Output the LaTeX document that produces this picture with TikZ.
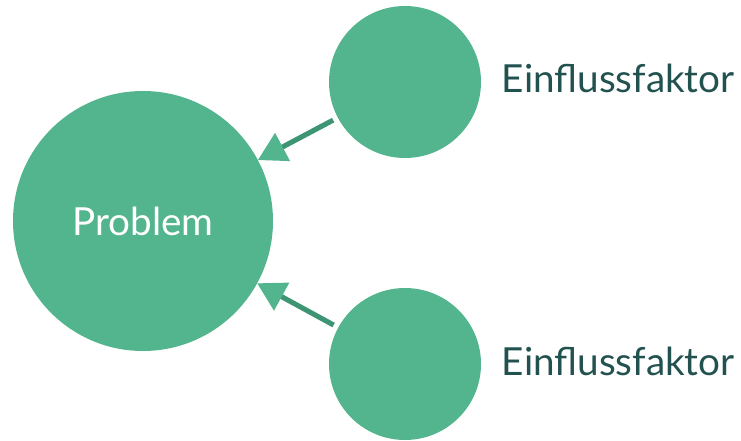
\documentclass[tikz,border=0pt]{standalone}
\usepackage{fontspec}
\setmainfont{Lato}
\usetikzlibrary{arrows.meta}
\usetikzlibrary{positioning}

\definecolor{circgreen}{HTML}{53B58E}
\definecolor{linegreen}{HTML}{3D9573}
\definecolor{textteal}{HTML}{22524F}

\begin{document}
\begin{tikzpicture}[x=0.75pt,y=-0.75pt,
		-{Triangle[length=21pt,width=23pt,color=circgreen]},line width=3.8pt,shorten <=4pt]
		\tikzstyle{every node}=[font=\fontsize{29}{34}\selectfont]
		\tikzstyle{bubble}=[circle,fill=circgreen,inner sep=0pt,outer sep=0pt]
		\useasboundingbox (0,0) rectangle (741,441);
		
		\node[bubble,minimum size=195pt,text=white] (problem) at (143,221) {Problem};
		\node[bubble,minimum size=114pt]            (factor1) at (405,82)  {};
		\node[bubble,minimum size=114pt]            (factor2) at (405,364) {};
		
		\node[anchor=base west,text=textteal] (label1) at (495,93)  {Einflussfaktor};
		\node[anchor=base west,text=textteal] (label2) at (495,375) {Einflussfaktor};
		
		\path[draw=linegreen] (factor1) edge (problem)
		(factor2) edge (problem);
		
		\end{tikzpicture}
\end{document}
